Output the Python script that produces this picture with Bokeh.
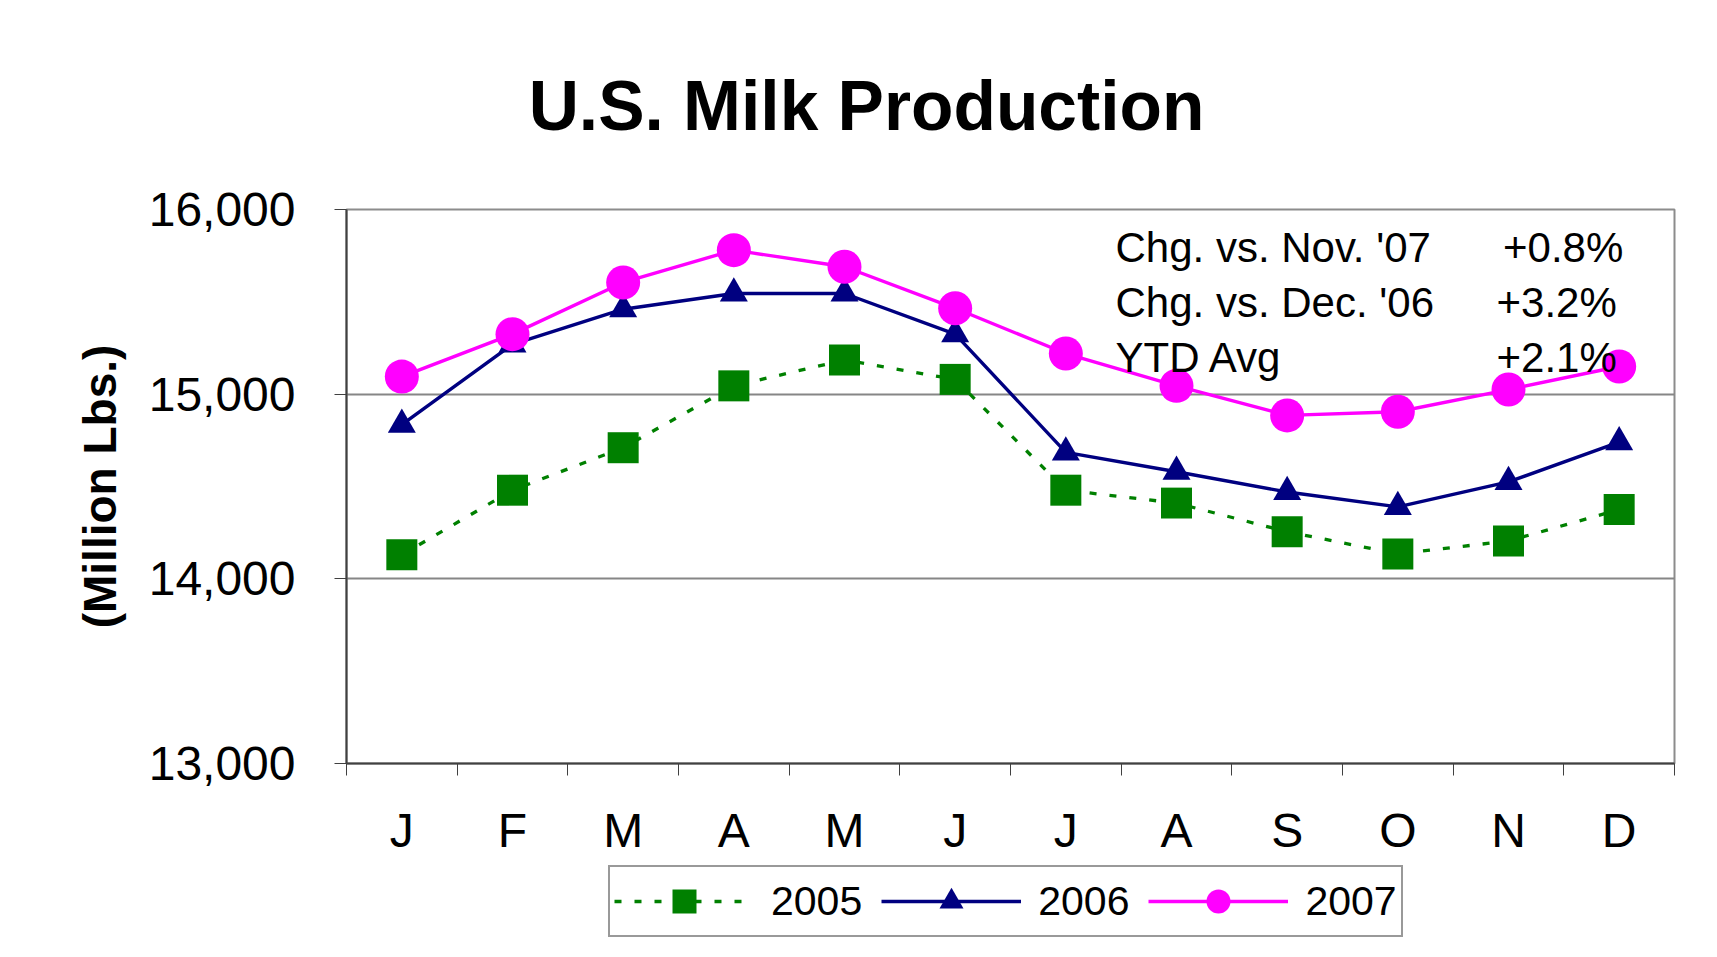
from bokeh.plotting import figure
from bokeh.models import (Range1d, FixedTicker, NumeralTickFormatter, Legend, LegendItem, Label)
from bokeh.embed import file_html
from bokeh.resources import INLINE

# ---- data ----
months = ["J", "F", "M", "A", "M", "J", "J", "A", "S", "O", "N", "D"]
prod_2005 = [14130, 14480, 14710, 15045, 15185, 15080, 14480, 14410, 14255, 14135, 14205, 14375]
prod_2006 = [14835, 15270, 15460, 15545, 15545, 15325, 14685, 14580, 14470, 14390, 14525, 14740]
prod_2007 = [15095, 15325, 15605, 15780, 15690, 15465, 15220, 15045, 14885, 14905, 15025, 15150]
series_names = ["2005", "2006", "2007"]
y_ticks = [13000, 14000, 15000, 16000]
note_labels = ["Chg. vs. Nov. '07", "Chg. vs. Dec. '06", "YTD Avg"]
note_values = ["+0.8%", "+3.2%", "+2.1%"]
title_text = "U.S. Milk Production"
y_title = "(Million Lbs.)"

FONT = "Liberation Sans"
xs = list(range(len(months)))
NAN = float("nan")

styles = [
    dict(color="#008000", dash="7 13", width=3.3, marker="square", size=31),
    dict(color="#000080", dash="solid", width=3.4, marker="triangle", size=28),
    dict(color="#FF00FF", dash="solid", width=3.4, marker="circle", size=34),
]
series = [prod_2005, prod_2006, prod_2007]

def blank_strip(height):
    f = figure(width=1701, height=height, output_backend="svg", toolbar_location=None,
               x_axis_type=None, y_axis_type=None, min_border=0,
               min_border_left=0, min_border_right=0, min_border_top=0, min_border_bottom=0,
               background_fill_color="white", border_fill_color="white")
    f.outline_line_color = None
    f.grid.visible = False
    return f

# ---- title strip ----
H0 = 150
p0 = blank_strip(H0)
p0.add_layout(Label(x=866, y=H0 - 105, x_units="screen", y_units="screen", text=title_text,
                    text_font=FONT, text_font_size="69.5px", text_font_style="bold",
                    text_align="center", text_baseline="alphabetic", text_color="black"))

# ---- main chart ----
p = figure(width=1701, height=712, output_backend="svg", toolbar_location=None,
           x_range=Range1d(-0.5, len(months) - 0.5), y_range=Range1d(y_ticks[0], y_ticks[-1]),
           min_border_left=346, min_border_right=27, min_border_top=209 - H0, min_border_bottom=99,
           background_fill_color="white", border_fill_color="white")

p.outline_line_color = "#8c8c8c"
p.outline_line_width = 2

# grid
p.xgrid.visible = False
p.ygrid.ticker = FixedTicker(ticks=y_ticks[1:-1])
p.ygrid.grid_line_color = "#868686"
p.ygrid.grid_line_width = 2

# x axis
xa = p.xaxis[0]
xa.ticker = FixedTicker(ticks=xs, minor_ticks=[i - 0.5 for i in range(len(months) + 1)])
xa.major_label_overrides = {i: m for i, m in zip(xs, months)}
xa.major_tick_out = 0
xa.major_tick_in = 0
xa.minor_tick_out = 12
xa.minor_tick_in = 0
xa.minor_tick_line_color = "#404040"
xa.minor_tick_line_width = 1
xa.axis_line_color = "#404040"
xa.axis_line_width = 2
xa.major_label_text_font = FONT
xa.major_label_text_font_size = "48px"
xa.major_label_text_color = "black"
xa.major_label_standoff = 28

# y axis
ya = p.yaxis[0]
ya.ticker = FixedTicker(ticks=y_ticks)
ya.formatter = NumeralTickFormatter(format="0,0")
ya.major_tick_out = 12
ya.major_tick_in = 0
ya.minor_tick_out = 0
ya.minor_tick_in = 0
ya.major_tick_line_color = "#404040"
ya.axis_line_color = "#404040"
ya.axis_line_width = 2
ya.major_label_text_font = FONT
ya.major_label_text_font_size = "48px"
ya.major_label_text_color = "black"
ya.major_label_standoff = 39
ya.axis_label = y_title
ya.axis_label_text_font = FONT
ya.axis_label_text_font_size = "46px"
ya.axis_label_text_font_style = "bold"
ya.axis_label_text_color = "black"
ya.axis_label_standoff = 20

# series
for vals, st in zip(series, styles):
    p.line(xs, vals, line_color=st["color"], line_width=st["width"], line_dash=st["dash"])
    p.scatter(xs, vals, marker=st["marker"], size=st["size"], fill_color=st["color"],
              line_color=st["color"], line_width=0)

# notes
note_y = [516, 461, 406]
val_x = [1156.5, 1150, 1150]
for lab, val, yy, vx in zip(note_labels, note_values, note_y, val_x):
    p.add_layout(Label(x=769, y=yy, x_units="screen", y_units="screen", text=lab,
                       text_font=FONT, text_font_size="42px", text_baseline="alphabetic",
                       text_color="black"))
    p.add_layout(Label(x=vx, y=yy, x_units="screen", y_units="screen", text=val,
                       text_font=FONT, text_font_size="42px", text_baseline="alphabetic",
                       text_color="black"))

# ---- legend strip ----
H2 = 79
p2 = blank_strip(H2)
items = []
for name, st in zip(series_names, styles):
    lr = p2.line([NAN], [NAN], line_color=st["color"], line_width=st["width"], line_dash=st["dash"])
    sr = p2.scatter([NAN], [NAN], marker=st["marker"], size=st["size"], fill_color=st["color"],
                    line_color=st["color"], line_width=0)
    items.append(LegendItem(label=name, renderers=[lr, sr]))

# location is the legend's bottom-left corner in the strip's screen units
legend = Legend(items=items, orientation="horizontal", location=(608, 4),
                glyph_width=140, glyph_height=60, padding=4, spacing=19, label_standoff=17,
                label_text_font=FONT, label_text_font_size="41px", label_text_color="black",
                border_line_color="#333333", border_line_width=2,
                background_fill_color="white", background_fill_alpha=1.0, margin=0)
p2.add_layout(legend)

html = file_html([p0, p, p2], INLINE, title="U.S. Milk Production")
open("out.html", "w").write(html)
